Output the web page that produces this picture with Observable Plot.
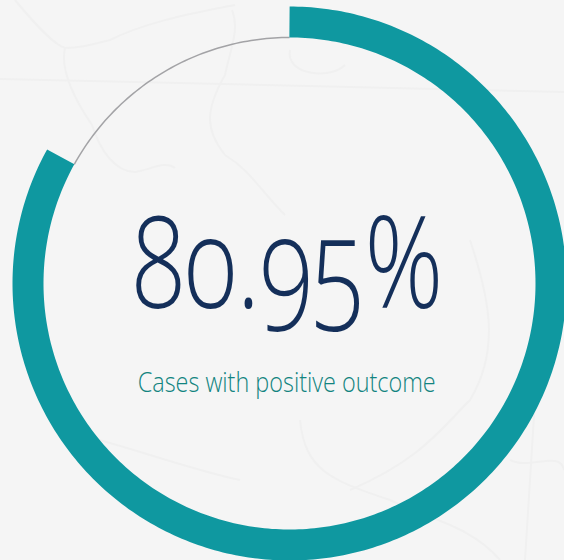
<!DOCTYPE html>
<html><head><meta charset="utf-8">
<script src="https://cdn.jsdelivr.net/npm/d3@7"></script>
<script src="https://cdn.jsdelivr.net/npm/@observablehq/plot@0.6"></script>
<style>html,body{margin:0;padding:0;background:#f5f5f5;overflow:hidden}svg{display:block;background:transparent!important}
.big text{font-variant-numeric:oldstyle-nums;font-feature-settings:"onum" 1}</style>
</head><body><div id="chart"></div>
<script>
const headline = ["80.95%"];
const caption = ["Cases with positive outcome"];
const segments = ["filled", "remainder"];
const shares = [83.05, 16.95]; // share of the ring as drawn in the picture
const W = 564, H = 560, cx = 289, cy = 283, outer = 277;
const mapLines = [
  "M15 0C40 30 55 45 65 48C60 70 75 100 92 125C100 150 115 172 135 172C150 170 165 160 175 168",
  "M65 48C80 48 90 45 110 40C140 25 180 15 235 5",
  "M0 79L180 83L564 92",
  "M232 10C240 30 230 50 225 75C205 110 205 130 225 155C250 170 260 190 285 215",
  "M290 50C285 75 330 80 345 65",
  "M470 240C490 300 500 350 470 400C440 430 420 460 350 490",
  "M300 420C305 470 330 480 390 500C430 520 470 525 500 560",
  "M60 430C110 440 190 470 240 480",
  "M535 400L525 560",
  "M510 460C530 470 560 450 564 470"
];
document.body.style.backgroundImage = "url(\"data:image/svg+xml," + encodeURIComponent(
  `<svg xmlns='http://www.w3.org/2000/svg' width='564' height='560'><g fill='none' stroke='#f0f0f0' stroke-width='2'>${mapLines.map(d => `<path d='${d}'/>`).join("")}</g></svg>`) + "\")";
const arc = (from, to, r) => {
  const n = Math.ceil((to - from) * 4);
  return d3.range(n + 1).map(i => {
    const a = (from + (to - from) * i / n) / 100 * 2 * Math.PI;
    return {x: r * Math.sin(a), y: r * Math.cos(a)};
  });
};
const band = arc(0, shares[0], 261.5 / outer);
const rest = arc(shares[0], 100, 246 / outer);
const plot = Plot.plot({
  width: W, height: H, margin: 0,
  style: {background: "transparent"},
  x: {domain: [-cx / outer, (W - cx) / outer], range: [0, W], axis: null},
  y: {domain: [cy / outer, (cy - H) / outer], range: [0, H], axis: null},
  marks: [
    Plot.line(rest, {x: "x", y: "y", stroke: "#a3a3a6", strokeWidth: 1.5, strokeLinecap: "butt"}),
    Plot.line(band, {x: "x", y: "y", stroke: "#0f98a0", strokeWidth: 31, strokeLinecap: "butt"}),
    Plot.text(headline, {x: () => -0.006, y: () => 0.06, text: d => d, fill: "#142f5a", fontSize: 127, fontWeight: 300, fontFamily: "Open Sans", textAnchor: "middle", className: "big"}),
    Plot.text(caption, {x: () => -0.01, y: () => -0.36, text: d => d, fill: "#128480", fontSize: 27, fontWeight: 300, fontFamily: "Open Sans", textAnchor: "middle", className: "small"})
  ]
});
d3.select(plot).selectAll(".big text").attr("textLength", 311).attr("lengthAdjust", "spacingAndGlyphs");
d3.select(plot).selectAll(".small text").attr("textLength", 298).attr("lengthAdjust", "spacingAndGlyphs");
document.getElementById("chart").append(plot);
</script></body></html>
